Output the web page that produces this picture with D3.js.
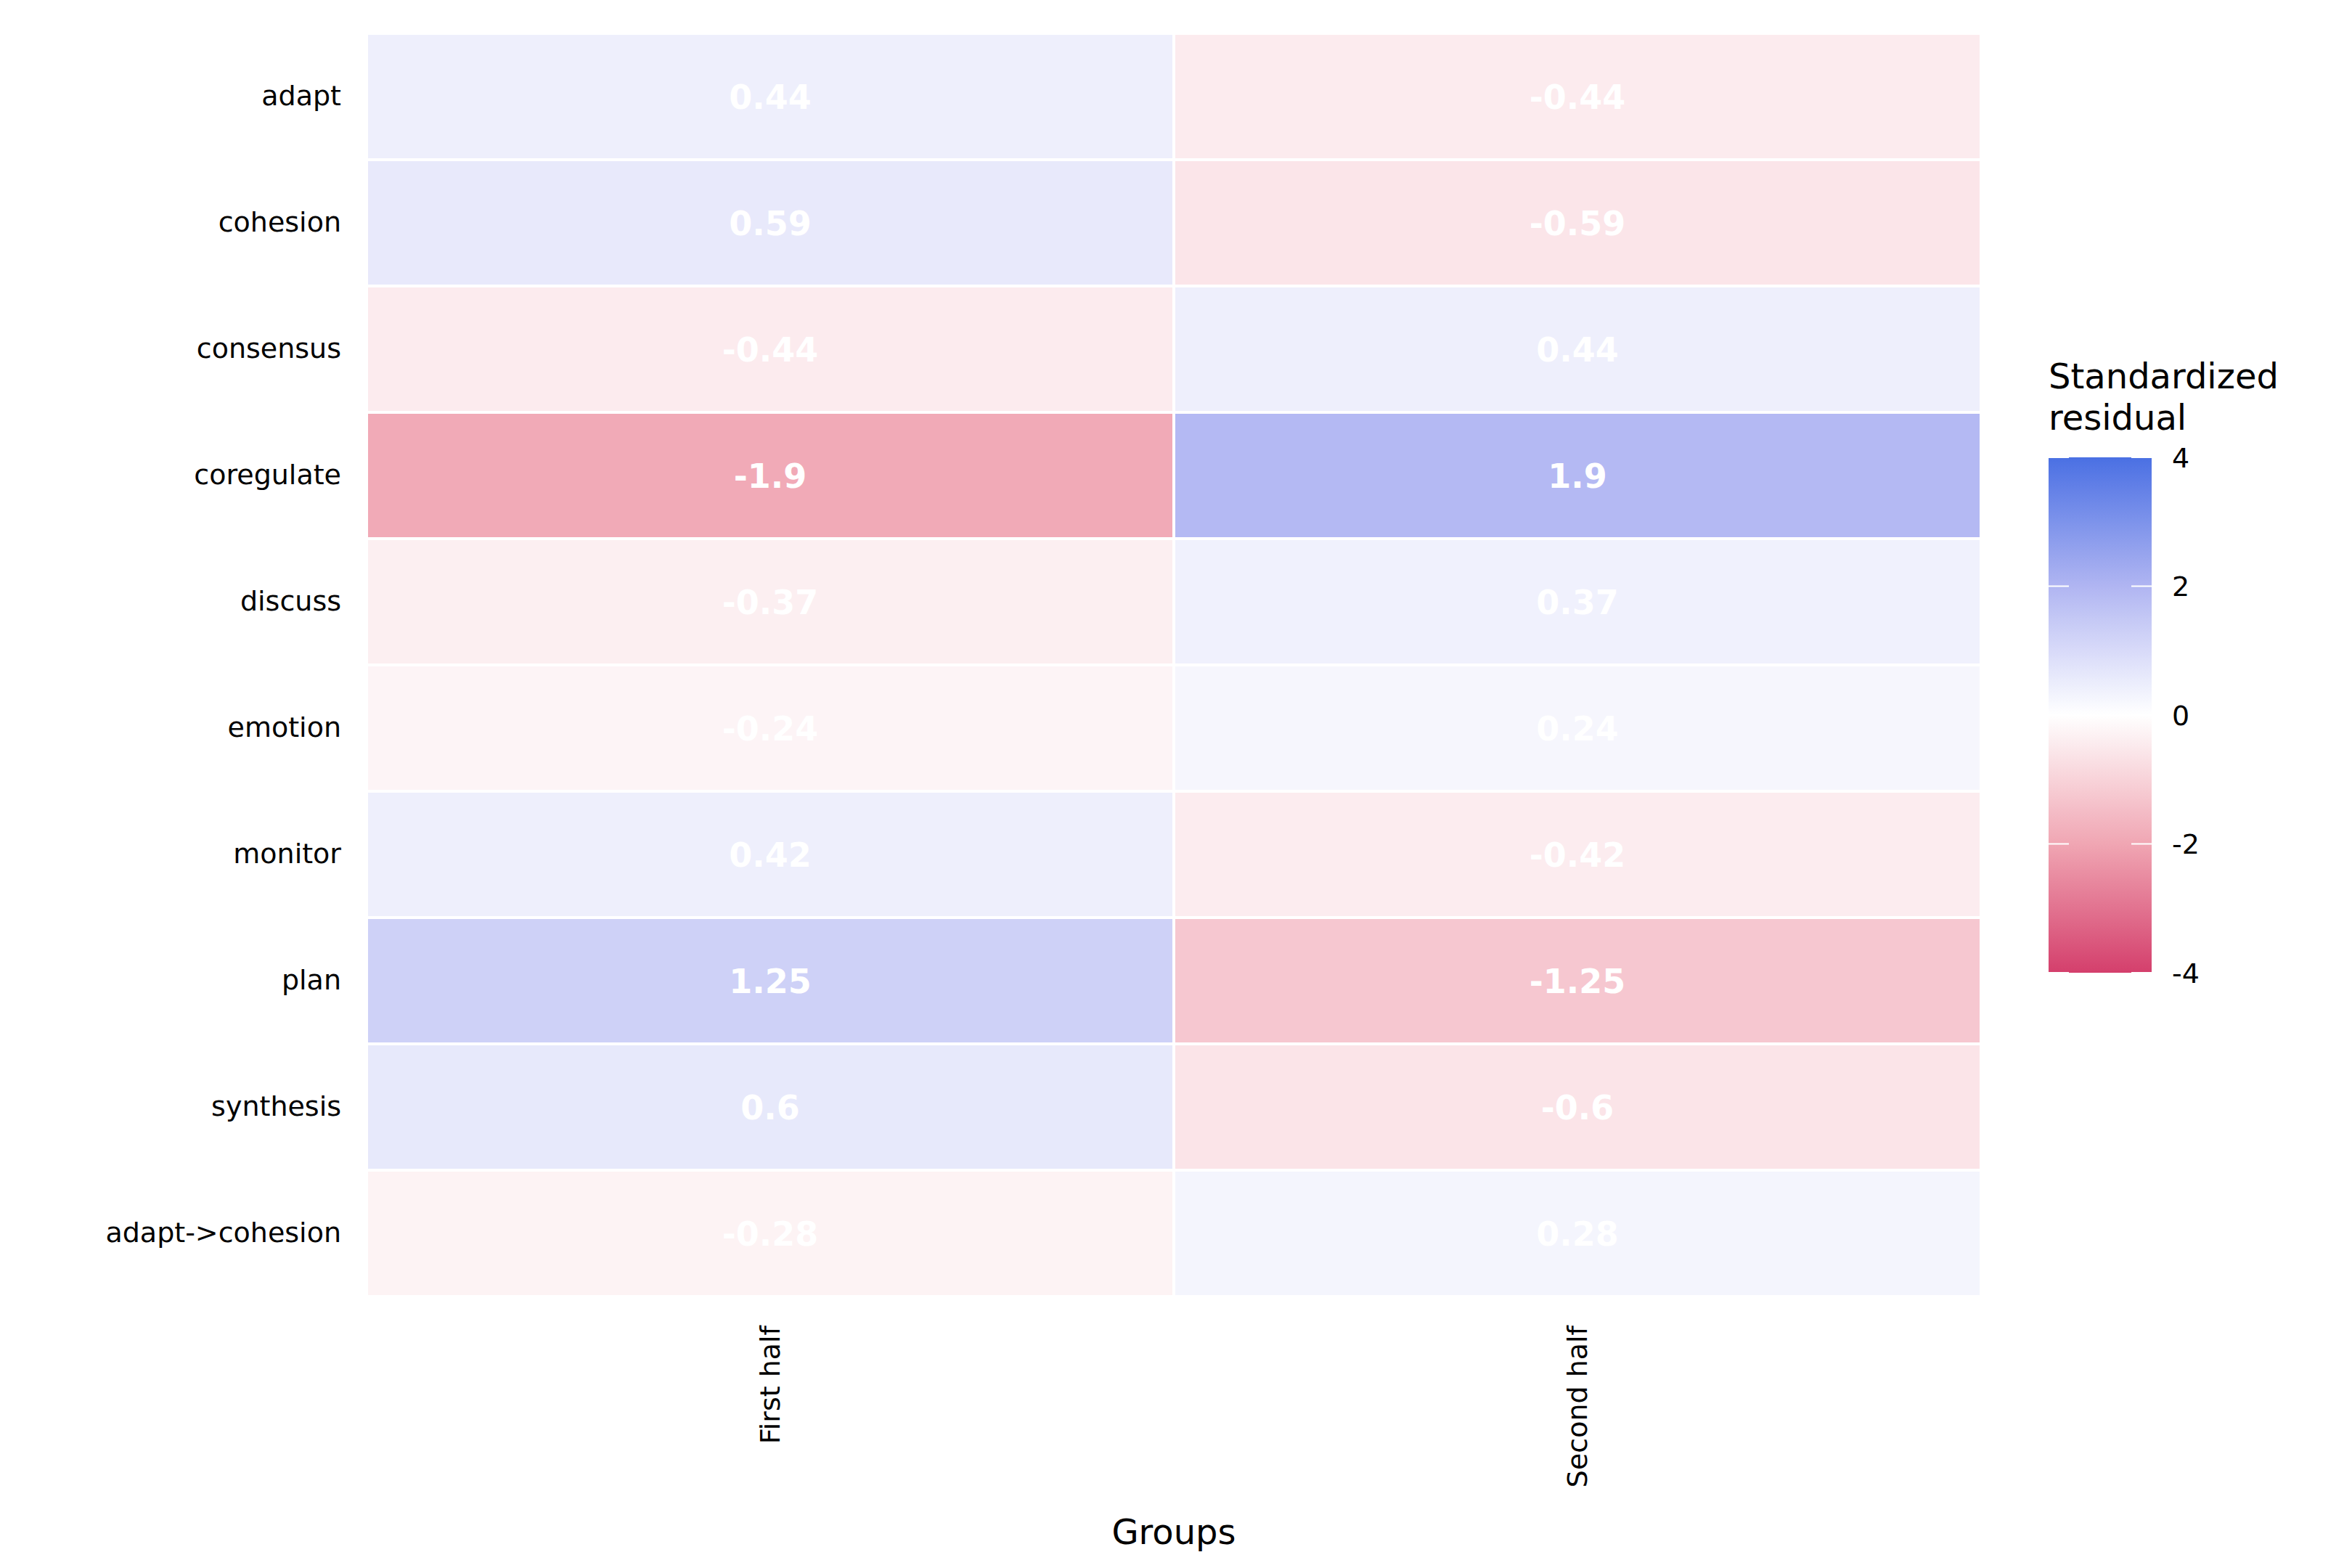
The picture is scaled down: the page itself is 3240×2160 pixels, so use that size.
<!DOCTYPE html>
<html>
<head>
<meta charset="utf-8">
<script src="https://cdn.jsdelivr.net/npm/d3@7"></script>
<style>
  body { margin: 0; background: #fff; }
  text { font-family: "DejaVu Sans", sans-serif; }
</style>
</head>
<body>
<div id="chart"></div>
<script>
// data
const rows = ["adapt", "cohesion", "consensus", "coregulate", "discuss", "emotion",
              "monitor", "plan", "synthesis", "adapt->cohesion"];
const groups = ["First half", "Second half"];
const firstHalf = [0.44, 0.59, -0.44, -1.9, -0.37, -0.24, 0.42, 1.25, 0.6, -0.28];
const secondHalf = [-0.44, -0.59, 0.44, 1.9, 0.37, 0.24, -0.42, -1.25, -0.6, 0.28];
const legendTicks = [4, 2, 0, -2, -4];

var cells = [];
rows.forEach(function (r, i) {
    cells.push({ row: r, group: groups[0], value: firstHalf[i] });
    cells.push({ row: r, group: groups[1], value: secondHalf[i] });
});

var W = 3240, H = 2160;
var margin = { top: 46, left: 505, right: W - 2729, bottom: H - 1786 };
var width = W - margin.left - margin.right,
    height = H - margin.top - margin.bottom;

var svg = d3.select("#chart").append("svg")
    .attr("width", W).attr("height", H);
var g = svg.append("g")
    .attr("transform", "translate(" + margin.left + "," + margin.top + ")");

var x = d3.scaleBand().domain(groups).range([0, width]);
var y = d3.scaleBand().domain(rows).range([0, height]);

var color = d3.scaleLinear()
    .domain([-4, -2, 0, 2, 4])
    .range(["#d43f6c", "#f0a6b3", "#ffffff", "#b0b5f2", "#4a70e3"])
    .clamp(true);

g.selectAll("rect.cell")
    .data(cells)
    .enter().append("rect")
    .attr("class", "cell")
    .attr("x", function (d) { return x(d.group); })
    .attr("y", function (d) { return y(d.row); })
    .attr("width", x.bandwidth())
    .attr("height", y.bandwidth())
    .attr("fill", function (d) { return color(d.value); })
    .attr("stroke", "#fff")
    .attr("stroke-width", 4);

g.selectAll("text.val")
    .data(cells)
    .enter().append("text")
    .attr("class", "val")
    .attr("x", function (d) { return x(d.group) + x.bandwidth() / 2; })
    .attr("y", function (d) { return y(d.row) + y.bandwidth() / 2; })
    .attr("dy", "0.36em")
    .attr("text-anchor", "middle")
    .attr("fill", "#fff")
    .style("font-size", "46px")
    .style("font-weight", "bold")
    .text(function (d) { return d.value; });

// y axis labels
var yAxis = g.append("g").call(d3.axisLeft(y).tickSize(0).tickPadding(35));
yAxis.select(".domain").remove();
yAxis.selectAll("text").style("font-size", "38px").attr("fill", "#000");

// x axis labels, rotated
var xAxis = g.append("g")
    .attr("transform", "translate(0," + height + ")")
    .call(d3.axisBottom(x).tickSize(0));
xAxis.select(".domain").remove();
xAxis.selectAll("text")
    .style("font-size", "38px").attr("fill", "#000")
    .attr("transform", "rotate(-90)")
    .attr("x", -40).attr("y", 0).attr("dy", "0.35em")
    .style("text-anchor", "end");

svg.append("text")
    .attr("x", margin.left + width / 2)
    .attr("y", 2127)
    .attr("text-anchor", "middle")
    .style("font-size", "48px")
    .text("Groups");

// legend
var lx = 2822, ly0 = 630, ly1 = 1340, lw = 142;
var ls = d3.scaleLinear().domain([4, -4]).range([ly0, ly1]);
var defs = svg.append("defs");
var grad = defs.append("linearGradient").attr("id", "grad")
    .attr("x1", 0).attr("y1", 0).attr("x2", 0).attr("y2", 1);
d3.range(4, -4.01, -0.5).forEach(function (v) {
    grad.append("stop")
        .attr("offset", ((4 - v) / 8 * 100) + "%")
        .attr("stop-color", color(v));
});
svg.append("rect")
    .attr("x", lx).attr("y", ly0).attr("width", lw).attr("height", ly1 - ly0)
    .attr("fill", "url(#grad)");
svg.selectAll("line.ltick").data(legendTicks).enter().append("line")
    .attr("x1", lx).attr("x2", lx + 28)
    .attr("y1", function (d) { return ls(d); }).attr("y2", function (d) { return ls(d); })
    .attr("stroke", "#fff").attr("stroke-width", 2);
svg.selectAll("line.rtick").data(legendTicks).enter().append("line")
    .attr("x1", lx + lw - 28).attr("x2", lx + lw)
    .attr("y1", function (d) { return ls(d); }).attr("y2", function (d) { return ls(d); })
    .attr("stroke", "#fff").attr("stroke-width", 2);
svg.selectAll("text.lt").data(legendTicks).enter().append("text")
    .attr("x", lx + lw + 28)
    .attr("y", function (d) { return ls(d); })
    .attr("dy", "0.36em")
    .style("font-size", "38px")
    .text(function (d) { return d; });
svg.append("text").attr("x", lx).attr("y", 535)
    .style("font-size", "48px").text("Standardized");
svg.append("text").attr("x", lx).attr("y", 592)
    .style("font-size", "48px").text("residual");
</script>
</body>
</html>
